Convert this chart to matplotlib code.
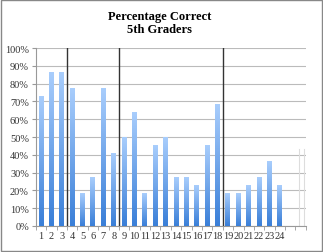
import numpy as np
import matplotlib.pyplot as plt
from matplotlib.colors import LinearSegmentedColormap

# Данные
questions = [str(i) for i in range(1, 25)] + ["", ""]
pct = [72.7, 86.4, 86.4, 77.3, 18.2, 27.3, 77.3, 40.9, 50.0, 63.6, 18.2, 45.5,
       50.0, 27.3, 27.3, 22.7, 45.5, 68.2, 18.2, 18.2, 22.7, 27.3, 36.4, 22.7]
dividers = [3.5, 8.5, 18.5]  # вертикальные линии между группами
y_ticks = list(range(0, 101, 10))

plt.rcParams['font.family'] = ['Liberation Serif', 'DejaVu Serif']

fig = plt.figure(figsize=(3.23, 2.53), dpi=100)
ax = fig.add_axes([0.111, 0.103, 0.836, 0.703])

n = len(questions)
x = np.arange(1, n + 1)
w = 0.48
cmap = LinearSegmentedColormap.from_list("bar", ["#3a7fd8", "#a8cdfc"])
grad = np.linspace(0, 1, 64).reshape(-1, 1)

# Столбцы с градиентом
for xi, v in zip(x, pct):
    ax.imshow(grad, cmap=cmap, origin='lower', aspect='auto',
              extent=(xi - w / 2, xi + w / 2, 0, v), zorder=3)

ax.set_xlim(0.5, n + 0.5)
ax.set_ylim(0, 100)

for d in dividers:
    ax.axvline(d, color='#333333', linewidth=1.0, zorder=4)
# бледные линии справа
for d in [25.8, 26.3]:
    ax.plot([d, d], [0, 43], color='#dddddd', linewidth=0.8, zorder=2)

ax.set_yticks(y_ticks)
ax.set_yticklabels([f"{t}%" for t in y_ticks], fontsize=7.5, color='#333333')
ax.set_xticks(x)
ax.set_xticklabels(questions, fontsize=7.5, color='#333333')
ax.set_xticks(np.arange(0.5, n + 1), minor=True)
ax.tick_params(axis='x', which='major', length=0, pad=4)
ax.tick_params(axis='x', which='minor', length=3, color='#999999')
ax.tick_params(axis='y', length=3, color='#999999', pad=2)

ax.yaxis.grid(True, color='#bbbbbb', linewidth=0.8, zorder=0)
ax.set_axisbelow(True)
for s in ['top', 'right']:
    ax.spines[s].set_visible(False)
ax.spines['left'].set_color('#999999')
ax.spines['bottom'].set_color('#999999')

fig.text(0.495, 0.907, "Percentage Correct\n5th Graders", ha='center', va='center',
         fontsize=9, fontweight='bold', linespacing=1.15)

# рамка вокруг рисунка
fig.patches.append(plt.Rectangle((0.003, 0.004), 0.994, 0.992, transform=fig.transFigure,
                                 fill=False, edgecolor='#888888', linewidth=1.0))

fig.savefig("out.png", dpi=100)
